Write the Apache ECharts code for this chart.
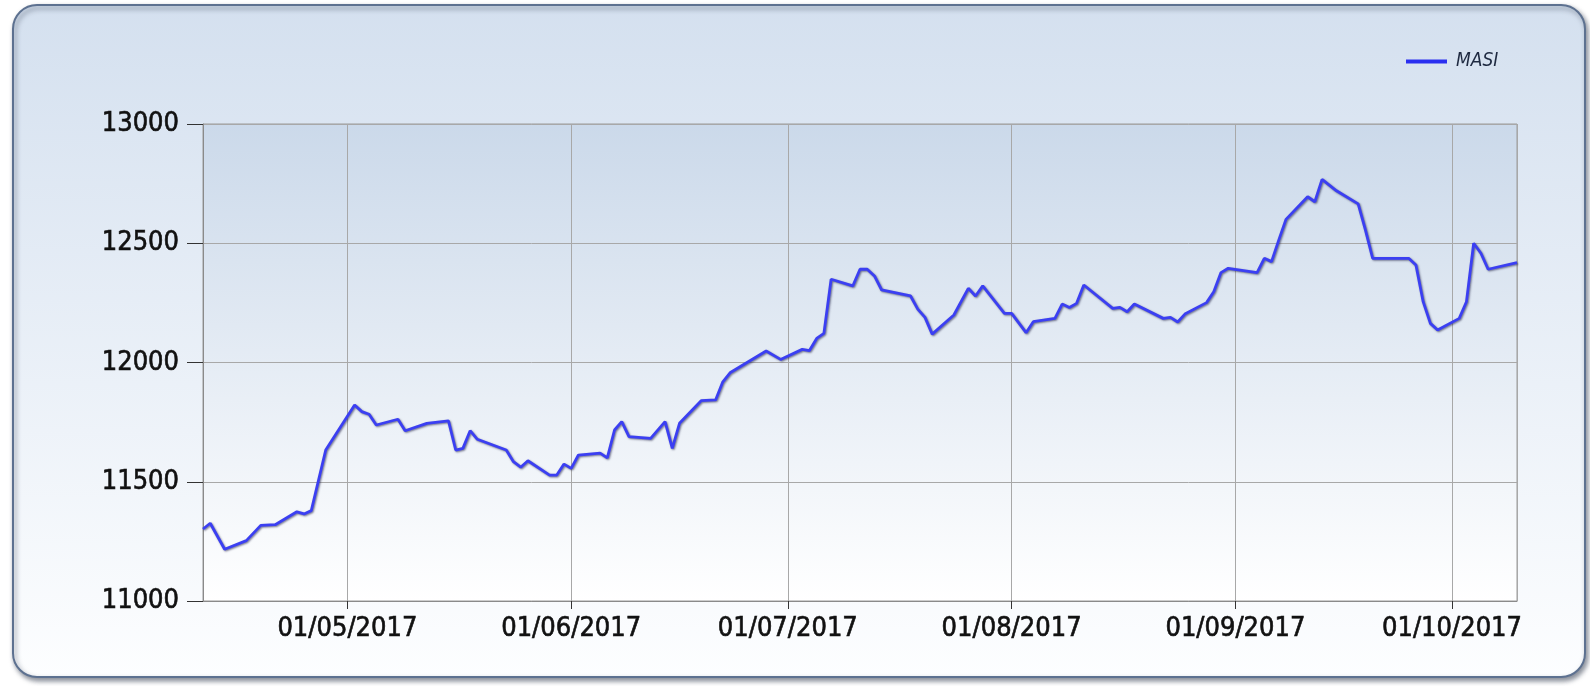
<!DOCTYPE html>
<html>
<head>
<meta charset="utf-8">
<script src="https://cdn.jsdelivr.net/npm/echarts@6/dist/echarts.min.js"></script>
<style>
  html, body { margin: 0; padding: 0; background: #fff; }
  #main { width: 1590px; height: 686px; }
</style>
</head>
<body>
<div id="main"></div>
<script>
// MASI index, dates (dd/mm/yyyy) and closing values
var dates = [
  '11/04/2017','12/04/2017','14/04/2017','17/04/2017','19/04/2017','21/04/2017','24/04/2017','25/04/2017','26/04/2017','28/04/2017',
  '02/05/2017','03/05/2017','04/05/2017','05/05/2017','08/05/2017','09/05/2017','12/05/2017','15/05/2017','16/05/2017','17/05/2017',
  '18/05/2017','19/05/2017','23/05/2017','24/05/2017','25/05/2017','26/05/2017','29/05/2017','30/05/2017','31/05/2017',
  '01/06/2017','02/06/2017','05/06/2017','06/06/2017','07/06/2017','08/06/2017','09/06/2017','12/06/2017','14/06/2017','15/06/2017',
  '16/06/2017','19/06/2017','21/06/2017','22/06/2017','23/06/2017','28/06/2017','30/06/2017',
  '03/07/2017','04/07/2017','05/07/2017','06/07/2017','07/07/2017','10/07/2017','11/07/2017','12/07/2017','13/07/2017','14/07/2017',
  '18/07/2017','19/07/2017','20/07/2017','21/07/2017','24/07/2017','26/07/2017','27/07/2017','28/07/2017','31/07/2017',
  '01/08/2017','03/08/2017','04/08/2017','07/08/2017','08/08/2017','09/08/2017','10/08/2017','11/08/2017','15/08/2017','16/08/2017',
  '17/08/2017','18/08/2017','22/08/2017','23/08/2017','24/08/2017','25/08/2017','28/08/2017','29/08/2017','30/08/2017','31/08/2017',
  '04/09/2017','05/09/2017','06/09/2017','07/09/2017','08/09/2017','11/09/2017','12/09/2017','13/09/2017','15/09/2017','18/09/2017',
  '19/09/2017','20/09/2017','25/09/2017','26/09/2017','27/09/2017','28/09/2017','29/09/2017',
  '02/10/2017','03/10/2017','04/10/2017','05/10/2017','06/10/2017','10/10/2017'
];
var masi = [
  11302,11326,11217,11253,11317,11320,11374,11365,11379,11633,
  11822,11794,11783,11738,11762,11714,11745,11755,11633,11640,
  11714,11678,11633,11584,11561,11588,11528,11528,11574,
  11556,11612,11620,11600,11717,11752,11689,11682,11752,11640,
  11745,11840,11843,11919,11957,12048,12013,
  12055,12050,12101,12122,12349,12321,12391,12391,12363,12304,
  12279,12224,12189,12119,12199,12311,12279,12321,12206,
  12206,12125,12171,12185,12245,12231,12248,12325,12227,12231,
  12213,12245,12185,12189,12170,12203,12251,12297,12377,12395,
  12377,12437,12423,12513,12600,12695,12674,12768,12720,12665,
  12556,12437,12437,12409,12255,12164,12136,
  12185,12255,12500,12458,12391,12419
];
var seriesName = 'MASI';
var xMin = '2017-04-11';
var xMax = '2017-10-10';
var yMin = 11000;
var yMax = 13000;
var yStep = 500;

function toIso(d) {
  var p = d.split('/');
  return p[2] + '-' + p[1] + '-' + p[0];
}
function pad(n) { return n < 10 ? '0' + n : '' + n; }

var points = [];
for (var i = 0; i < dates.length; i++) {
  points.push([toIso(dates[i]), masi[i]]);
}

var labelFont = "'DejaVu Sans Condensed', 'DejaVu Sans', sans-serif";

var myChart = echarts.init(document.getElementById('main'));

var option = {
  animation: false,
  backgroundColor: '#ffffff',
  graphic: [
    {
      // rounded panel behind the chart
      type: 'rect',
      z: -10,
      silent: true,
      shape: { x: 13, y: 5, width: 1572, height: 672, r: 24 },
      style: {
        fill: new echarts.graphic.LinearGradient(0, 0, 0, 1, [
          { offset: 0, color: '#d4e0ef' },
          { offset: 1, color: '#fdfeff' }
        ]),
        stroke: '#5d7190',
        lineWidth: 2,
        shadowColor: 'rgba(40,50,70,0.55)',
        shadowBlur: 5,
        shadowOffsetX: 2,
        shadowOffsetY: 3
      }
    }
  ],
  legend: {
    left: 1401,
    top: 47,
    icon: 'rect',
    itemWidth: 41,
    itemHeight: 4,
    itemGap: 10,
    textStyle: {
      fontFamily: labelFont,
      fontSize: 19,
      fontStyle: 'italic',
      color: '#1e2940',
      padding: [0, 0, 0, 4]
    },
    data: [seriesName]
  },
  grid: {
    left: 203,
    right: 73,
    top: 124,
    bottom: 85,
    show: true,
    borderColor: '#9a9a9a',
    borderWidth: 1,
    backgroundColor: new echarts.graphic.LinearGradient(0, 0, 0, 1, [
      { offset: 0, color: '#cbd9ea' },
      { offset: 1, color: '#ffffff' }
    ])
  },
  xAxis: {
    type: 'time',
    min: xMin,
    max: xMax,
    minInterval: 28 * 86400000,
    axisLine: { lineStyle: { color: '#8a8a8a', width: 1 } },
    axisTick: { show: true, length: 8, lineStyle: { color: '#333' } },
    splitLine: { show: true, lineStyle: { color: '#a8a8a8', width: 1 } },
    axisLabel: {
      margin: 14,
      fontFamily: labelFont,
      fontSize: 27,
      color: '#111',
      textBorderColor: '#111',
      textBorderWidth: 0.6,
      formatter: function (val) {
        var d = new Date(val);
        return pad(d.getDate()) + '/' + pad(d.getMonth() + 1) + '/' + d.getFullYear();
      }
    }
  },
  yAxis: {
    type: 'value',
    min: yMin,
    max: yMax,
    interval: yStep,
    axisLine: { show: true, lineStyle: { color: '#8a8a8a', width: 1 } },
    axisTick: { show: true, length: 16, lineStyle: { color: '#333' } },
    splitLine: { show: true, lineStyle: { color: '#a8a8a8', width: 1 } },
    axisLabel: {
      margin: 24,
      fontFamily: labelFont,
      fontSize: 27,
      color: '#111',
      textBorderColor: '#111',
      textBorderWidth: 0.6,
      formatter: function (val) { return String(val); }
    }
  },
  series: [
    {
      name: seriesName,
      type: 'line',
      data: points,
      symbol: 'none',
      itemStyle: { color: '#2a2ff0' },
      lineStyle: {
        color: '#3b3ff2',
        width: 2.8,
        shadowColor: 'rgba(20,20,60,0.55)',
        shadowBlur: 2,
        shadowOffsetX: 1,
        shadowOffsetY: 1
      }
    }
  ]
};
myChart.setOption(option);
window.addEventListener('resize', function () {
  myChart.resize();
});
</script>
</body>
</html>
